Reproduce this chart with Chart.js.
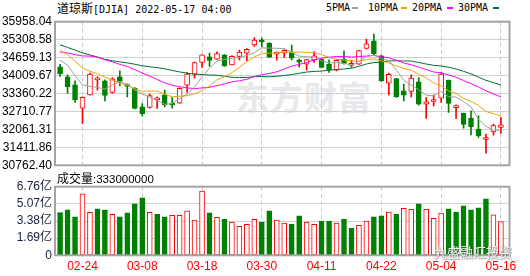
<!DOCTYPE html>
<html>
<head>
<meta charset="utf-8">
<script src="https://cdn.jsdelivr.net/npm/chart.js@4/dist/chart.umd.min.js"></script>
<style>
  body { margin: 0; width: 530px; height: 276px; overflow: hidden; position: relative; background: #fff; }
  .abs { position: absolute; white-space: nowrap; }
  .mono { font-family: "DejaVu Sans Mono", monospace; font-size: 10px; }
  .cjk { font-family: "Noto Sans CJK SC", sans-serif; font-size: 12px; }
  #title { left: 57px; top: 1px; line-height: 14px; color: #000; }
  .lg { top: 1px; line-height: 14px; color: #000; }
  .dash { top: 7px; width: 6px; height: 2px; }
  #vlabel { left: 57px; top: 171px; line-height: 14px; color: #000; z-index: 3; }
  #vlabel .num { font-family: "Liberation Sans", sans-serif; font-size: 11.5px; }
  #wm { left: 236px; top: 72px; font: bold 33px "Noto Sans CJK SC", sans-serif; color: #e8e8ec; letter-spacing: 1px; z-index: 0; }
  #wm2 { left: 434px; top: 242px; font: 13px "Noto Sans CJK SC", sans-serif; color: rgba(255,255,255,0.9);
         text-shadow: 0 0 1px #777, 1px 1px 1px rgba(0,0,0,0.35); z-index: 3; }
  #pbox { left: 0; top: 0; width: 530px; height: 176px; z-index: 1; }
  #vbox { left: 0; top: 176px; width: 530px; height: 100px; z-index: 1; }
</style>
</head>
<body>
<div id="title" class="abs"><span class="cjk">道琼斯</span><span class="mono">[DJIA] 2022-05-17 04:00</span></div>
<div class="abs lg mono" style="left:326px">5PMA</div><div class="abs dash" style="left:352px;background:#a0a0a0"></div>
<div class="abs lg mono" style="left:368px">10PMA</div><div class="abs dash" style="left:401px;background:#f5a300"></div>
<div class="abs lg mono" style="left:412px">20PMA</div><div class="abs dash" style="left:447px;background:#ff00ff"></div>
<div class="abs lg mono" style="left:458px">30PMA</div><div class="abs dash" style="left:493px;background:#006f33"></div>
<div id="wm" class="abs">东方财富</div>
<div id="pbox" class="abs"><canvas id="price" width="530" height="176"></canvas></div>
<div id="vlabel" class="abs"><span class="cjk">成交量</span><span class="num">:333000000</span></div>
<div id="vbox" class="abs"><canvas id="vol" width="530" height="100"></canvas></div>
<div id="wm2" class="abs">九盛融汇投资</div>
<script>
// 道琼斯日K：2022-02-18 ~ 2022-05-16，共 60 根
const dates = ['02-18','02-22','02-23','02-24','02-25','02-28','03-01','03-02','03-03','03-04',
  '03-07','03-08','03-09','03-10','03-11','03-14','03-15','03-16','03-17','03-18',
  '03-21','03-22','03-23','03-24','03-25','03-28','03-29','03-30','03-31','04-01',
  '04-04','04-05','04-06','04-07','04-08','04-11','04-12','04-13','04-14','04-18',
  '04-19','04-20','04-21','04-22','04-25','04-26','04-27','04-28','04-29','05-02',
  '05-03','05-04','05-05','05-06','05-09','05-10','05-11','05-12','05-13','05-16'];
const xTickDates = ['02-24','03-08','03-18','03-30','04-11','04-22','05-04','05-16'];

const open = [34325,33963,33674,32830,33312,33855,33819,33397,33963,33660,
  33553,32878,32854,33130,33312,33010,33011,33662,34060,34482,
  34687,34603,34759,34398,34699,34820,35121,35242,35181,34783,
  34820,34844,34518,34422,34578,34602,34422,34205,34602,34380,
  34422,34989,35266,34723,33734,33903,33457,33433,33782,32974,
  33071,33192,33843,32850,32649,32468,32070,31696,31974,32130];
const high = [34420,34036,33819,33240,34096,33963,33855,33939,34180,33700,
  33577,32999,33336,33240,33481,33215,33577,34120,34500,34770,
  34820,34868,34770,34730,34928,34988,35386,35362,35200,34868,
  34940,35109,34602,34600,34880,34610,34578,34600,34904,34560,
  34925,35326,35507,34747,34096,33910,33698,34036,33939,33215,
  33300,34120,33843,32950,32649,32733,32552,31889,32251,32492];
const low = [33975,33360,33035,32275,33300,33481,33095,33370,33638,33240,
  32800,32552,32830,32818,32878,32830,33000,33397,33915,34301,
  34337,34590,34340,34390,34578,34542,35061,35049,34660,34566,
  34663,34578,34325,34205,34482,34290,34120,34180,34422,34300,
  34410,34970,34747,33795,33312,33215,33095,33240,32938,32456,
  32914,33035,32673,32456,32106,31865,31768,31202,31853,31913];
const close = [34079.18,33596.61,33131.76,33223.83,34058.75,33892.60,33294.95,33891.35,33794.66,33614.80,
  32817.38,32632.64,33286.25,33174.07,32944.19,32945.24,33544.34,34063.10,34480.76,34754.93,
  34552.99,34807.46,34358.50,34707.94,34861.24,34955.89,35294.19,35228.81,34678.35,34818.27,
  34921.88,34641.18,34496.51,34583.57,34721.12,34308.08,34220.36,34564.59,34451.23,34411.69,
  34911.20,35160.79,34792.76,33811.40,34049.46,33240.18,33301.93,33916.39,32977.21,33061.50,
  33128.79,34061.06,32997.97,32899.37,32245.70,32160.74,31834.11,31730.30,32196.66,32223.42];
const prevClose = 34312.03; // 02-17 收盘，用于首根成交量颜色

const ma5 = [34576,34382,34011,33669,33618,33581,33520,33672,33786,33698,
  33483,33350,33229,33105,32971,32996,33179,33334,33596,33958,
  34279,34532,34591,34636,34658,34738,34836,35010,35004,34995,
  34988,34858,34711,34692,34673,34550,34466,34480,34453,34391,
  34512,34700,34746,34618,34545,34211,33839,33664,33497,33299,
  33277,33429,33245,33230,33067,32873,32428,32174,32034,32029];
const ma10 = [34918,34769,34536,34281,34163,34078,33951,33842,33728,33658,
  33532,33435,33451,33446,33334,33240,33264,33282,33350,33464,
  33638,33855,33963,34116,34308,34509,34684,34800,34820,34826,
  34863,34847,34860,34848,34834,34769,34662,34595,34573,34532,
  34531,34583,34613,34535,34468,34361,34270,34205,34057,33922,
  33744,33634,33455,33363,33183,33075,32928,32710,32632,32548];
const ma20 = [34863,34825,34767,34719,34714,34673,34581,34505,34413,34339,
  34225,34102,33993,33864,33749,33659,33608,33562,33539,33561,
  33585,33645,33707,33781,33821,33874,33974,34041,34085,34145,
  34251,34351,34412,34482,34571,34639,34673,34698,34696,34679,
  34697,34715,34737,34692,34651,34565,34466,34400,34315,34227,
  34138,34109,34034,33949,33826,33718,33599,33457,33345,33235];
const ma30 = [35117,35029,34931,34830,34756,34682,34595,34546,34504,34468,
  34419,34362,34328,34295,34254,34195,34142,34097,34059,34047,
  34029,34020,33983,33948,33935,33942,33967,33975,33966,33983,
  34011,34046,34091,34137,34159,34173,34203,34226,34248,34274,
  34344,34428,34479,34500,34537,34546,34538,34534,34483,34427,
  34379,34355,34309,34249,34162,34069,33953,33837,33754,33667];

// 成交量（亿股）
const vol = [4.20,4.47,3.78,6.06,4.24,4.57,4.47,4.04,3.78,4.18,
  5.07,5.67,4.24,4.04,3.78,3.94,3.94,4.37,3.48,6.33,
  4.18,3.74,3.54,3.28,2.85,3.05,3.54,3.28,4.37,3.48,
  3.18,3.08,3.88,3.28,3.05,3.38,3.38,3.18,3.58,2.68,
  2.95,3.38,3.78,3.88,4.27,4.07,4.64,4.54,5.07,4.54,
  3.64,4.17,4.57,4.27,4.87,4.47,4.67,5.57,3.98,3.33];

const priceTicks = [30762.40,31411.86,32061.31,32710.77,33360.22,34009.67,34659.13,35308.58,35958.04];
const volTicks = [0,1.69,3.38,5.07,6.76];

const RED = '#ff0000', GREEN = '#008000';
const up = close.map((c, i) => c >= open[i]);
const volUp = close.map((c, i) => c >= (i ? close[i - 1] : prevClose));
const tickIdx = dates.map((d, i) => i).filter((i) => xTickDates.includes(dates[i]));
const pts = (arr) => arr.map((v, i) => ({ x: i, y: v }));
const numFont = { family: '"Liberation Sans", "Noto Sans CJK SC", sans-serif', size: 12 };

// 绘图区外框
const frame = {
  id: 'frame',
  afterDatasetsDraw(c) {
    const { ctx, chartArea: a } = c;
    ctx.save();
    ctx.strokeStyle = '#a4a4a4';
    ctx.lineWidth = 2;
    ctx.strokeRect(a.left, a.top, a.right - a.left, a.bottom - a.top);
    ctx.restore();
  },
};

function xAxis(showLabels) {
  return {
    type: 'linear', min: -0.68, max: 60.15, offset: false,
    afterBuildTicks: (s) => { s.ticks = tickIdx.map((i) => ({ value: i })); },
    afterFit: (s) => { s.height = showLabels ? 20.7 : 0; },
    ticks: { display: showLabels, autoSkip: false, maxRotation: 0, padding: 4, color: RED, font: numFont,
      callback: (v) => dates[v] },
    grid: { drawTicks: false, offset: false, color: '#c8c8c8' },
    border: { display: false, dash: [4, 3] },
  };
}

function yAxis(min, max, ticks, fmt, color) {
  return {
    min, max,
    afterBuildTicks: (s) => { s.ticks = ticks.map((v) => ({ value: v })); },
    afterFit: (s) => { s.width = 55; },
    ticks: { autoSkip: false, padding: 3, color, font: numFont, callback: fmt },
    grid: { drawTicks: false, color: '#d0d0d0' },
    border: { display: false },
  };
}

const common = {
  responsive: false, animation: false, events: [],
  plugins: { legend: { display: false }, tooltip: { enabled: false } },
};

const line = (data, color) => ({ type: 'line', data: pts(data), borderColor: color, borderWidth: 1,
  pointRadius: 0, tension: 0, order: 0 });

new Chart(document.getElementById('price'), {
  type: 'bar',
  data: {
    datasets: [
      line(ma5, '#a0a0a0'), line(ma10, '#f5a300'), line(ma20, '#ff00ff'), line(ma30, '#006f33'),
      { type: 'bar', order: 1, grouped: false, barThickness: 5, minBarLength: 2,
        data: open.map((o, i) => ({ x: i, y: [o, close[i]] })),
        backgroundColor: up.map((u) => (u ? '#fff' : GREEN)), borderColor: up.map((u) => (u ? RED : GREEN)),
        borderWidth: 1, borderSkipped: false },
      { type: 'bar', order: 2, grouped: false, barThickness: 1,
        data: low.map((l, i) => ({ x: i, y: [l, high[i]] })),
        backgroundColor: up.map((u) => (u ? RED : GREEN)), borderWidth: 0 },
    ],
  },
  options: {
    ...common,
    layout: { padding: { top: 21.7, right: 20.5, bottom: 10.7, left: 0 } },
    scales: {
      x: xAxis(false),
      y: yAxis(priceTicks[0], priceTicks[priceTicks.length - 1], priceTicks, (v) => v.toFixed(2), '#000'),
    },
  },
  plugins: [frame],
});

new Chart(document.getElementById('vol'), {
  type: 'bar',
  data: {
    datasets: [{
      grouped: false, barThickness: 5,
      data: pts(vol),
      backgroundColor: volUp.map((u) => (u ? '#fff' : GREEN)), borderColor: volUp.map((u) => (u ? RED : GREEN)),
      borderWidth: 1, borderSkipped: false,
    }],
  },
  options: {
    ...common,
    layout: { padding: { top: 10.7, right: 20.5, bottom: 0, left: 0 } },
    scales: {
      x: xAxis(true),
      y: yAxis(0, volTicks[volTicks.length - 1], volTicks, (v) => (v === 0 ? '0' : v.toFixed(2) + '亿'), '#1a2040'),
    },
  },
  plugins: [frame],
});
</script>
</body>
</html>
